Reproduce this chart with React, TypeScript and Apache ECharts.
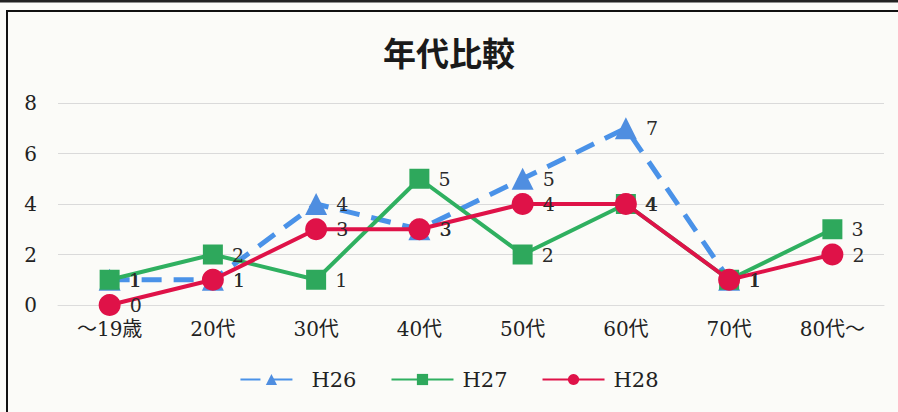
import React, { useEffect, useRef } from "react";
import * as echarts from "echarts";

const categories = ["～19歳", "20代", "30代", "40代", "50代", "60代", "70代", "80代～"];
const h26 = [1, 1, 4, 3, 5, 7, 1, null];
const h27 = [1, 2, 1, 5, 2, 4, 1, 3];
const h28 = [0, 1, 3, 3, 4, 4, 1, 2];
const seriesNames = ["H26", "H27", "H28"];
const titleText = "年代比較";

const SERIF = "'DejaVu Serif', 'Noto Sans CJK JP', serif";
const CJK = "'Noto Sans CJK JP', sans-serif";

export default function App() {
  const ref = useRef<HTMLDivElement>(null);
  useEffect(() => {
    if (!ref.current) return;
    const chart = echarts.init(ref.current, null, { renderer: "svg" });
    const label = {
      show: true,
      position: "right" as const,
      distance: 9,
      fontSize: 19,
      color: "#2a2a2a",
      fontFamily: SERIF,
    };
    chart.setOption({
      animation: false,
      backgroundColor: "#fbfbf8",
      title: {
        text: titleText,
        left: "center",
        top: 30,
        textStyle: { fontSize: 33, fontWeight: "bold", color: "#1a1a1a", fontFamily: CJK },
      },
      legend: {
        bottom: 17,
        left: "center",
        itemWidth: 62,
        itemHeight: 14,
        itemGap: 34,
        textStyle: { fontSize: 21, color: "#222", fontFamily: SERIF, padding: [0, 0, 0, 4] },
        data: seriesNames,
      },
      grid: { left: 58, right: 14, top: 103, bottom: 107 },
      xAxis: {
        type: "category",
        data: categories,
        boundaryGap: true,
        axisLine: { show: true, lineStyle: { color: "#dcdcdc" } },
        axisTick: { show: false },
        axisLabel: { fontSize: 20, color: "#222", fontFamily: SERIF, margin: 14 },
      },
      yAxis: {
        type: "value",
        min: 0,
        max: 8,
        interval: 2,
        axisLine: { show: false },
        axisTick: { show: false },
        axisLabel: { fontSize: 20, color: "#222", fontFamily: SERIF, margin: 21 },
        splitLine: { lineStyle: { color: "#dadada", width: 1 } },
      },
      graphic: [
        {
          type: "rect",
          shape: { x: 7, y: 11, width: 905, height: 420 },
          style: { fill: "none", stroke: "#111", lineWidth: 2 },
          silent: true,
        },
        {
          type: "line",
          shape: { x1: 0, y1: 1, x2: 898, y2: 1 },
          style: { stroke: "#222", lineWidth: 3 },
          silent: true,
        },
      ],
      series: [
        {
          name: seriesNames[0],
          type: "line",
          data: h26,
          symbol: "triangle",
          symbolSize: 22,
          color: "#4a92e8",
          lineStyle: { color: "#4a92e8", width: 5, type: [20, 12] },
          itemStyle: { color: "#4f8ee0" },
          label,
          z: 2,
        },
        {
          name: seriesNames[1],
          type: "line",
          data: h27,
          symbol: "rect",
          symbolSize: 20,
          color: "#2fb060",
          lineStyle: { color: "#2fb060", width: 4 },
          itemStyle: { color: "#2ea85c" },
          label,
          z: 3,
        },
        {
          name: seriesNames[2],
          type: "line",
          data: h28,
          symbol: "circle",
          symbolSize: 22,
          color: "#df1248",
          lineStyle: { color: "#df1248", width: 4 },
          itemStyle: { color: "#df1248" },
          label,
          z: 4,
        },
      ],
    });
    return () => chart.dispose();
  }, []);
  return (
    <div
      ref={ref}
      style={{ position: "fixed", left: 0, top: 0, width: 898, height: 412 }}
    />
  );
}
